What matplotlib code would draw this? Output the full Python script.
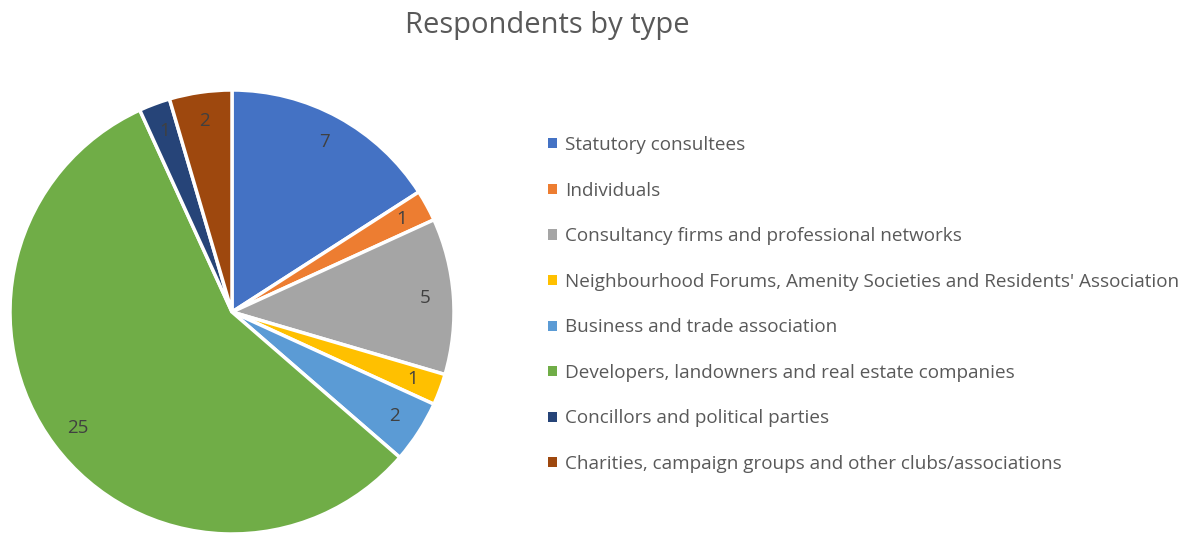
import matplotlib
matplotlib.use("Agg")
import matplotlib.pyplot as plt
from matplotlib.patches import Patch

plt.rcParams["font.family"] = ["Open Sans", "DejaVu Sans"]

categories = [
    "Statutory consultees",
    "Individuals",
    "Consultancy firms and professional networks",
    "Neighbourhood Forums, Amenity Societies and Residents' Association",
    "Business and trade association",
    "Developers, landowners and real estate companies",
    "Concillors and political parties",
    "Charities, campaign groups and other clubs/associations",
]
counts = [7, 1, 5, 1, 2, 25, 1, 2]
colors = ["#4472C4", "#ED7D31", "#A5A5A5", "#FFC000",
          "#5B9BD5", "#70AD47", "#264478", "#9E480E"]

W, H = 1204, 534
fig = plt.figure(figsize=(W / 100, H / 100), dpi=100)

# pie centre (232, 312) px from top, radius 222 px
cx, cy, r = 232, 312, 222
ax = fig.add_axes([(cx - r) / W, (H - cy - r) / H, 2 * r / W, 2 * r / H])

total = sum(counts)
wedges, texts, autotexts = ax.pie(
    counts,
    colors=colors,
    startangle=90,
    counterclock=False,
    autopct=lambda p: f"{round(p * total / 100):d}",
    pctdistance=0.87,
    wedgeprops=dict(edgecolor="white", linewidth=2.5),
    textprops=dict(color="#404040", fontsize=13.5),
)
ax.set_aspect("equal")
ax.set_xlim(-1, 1)
ax.set_ylim(-1, 1)

fig.text(547 / W, 1 - 25 / H, "Respondents by type", ha="center", va="center",
         fontsize=21, color="#595959")

handles = [Patch(facecolor=c, edgecolor="none") for c in colors]
fig.legend(handles, categories, loc="upper left",
           bbox_to_anchor=(531 / W, 1 - 119 / H), frameon=False,
           fontsize=13.6, labelcolor="#595959", handlelength=0.45,
           handleheight=0.45, handletextpad=0.45, labelspacing=1.46)

fig.savefig("out.png", dpi=100)
